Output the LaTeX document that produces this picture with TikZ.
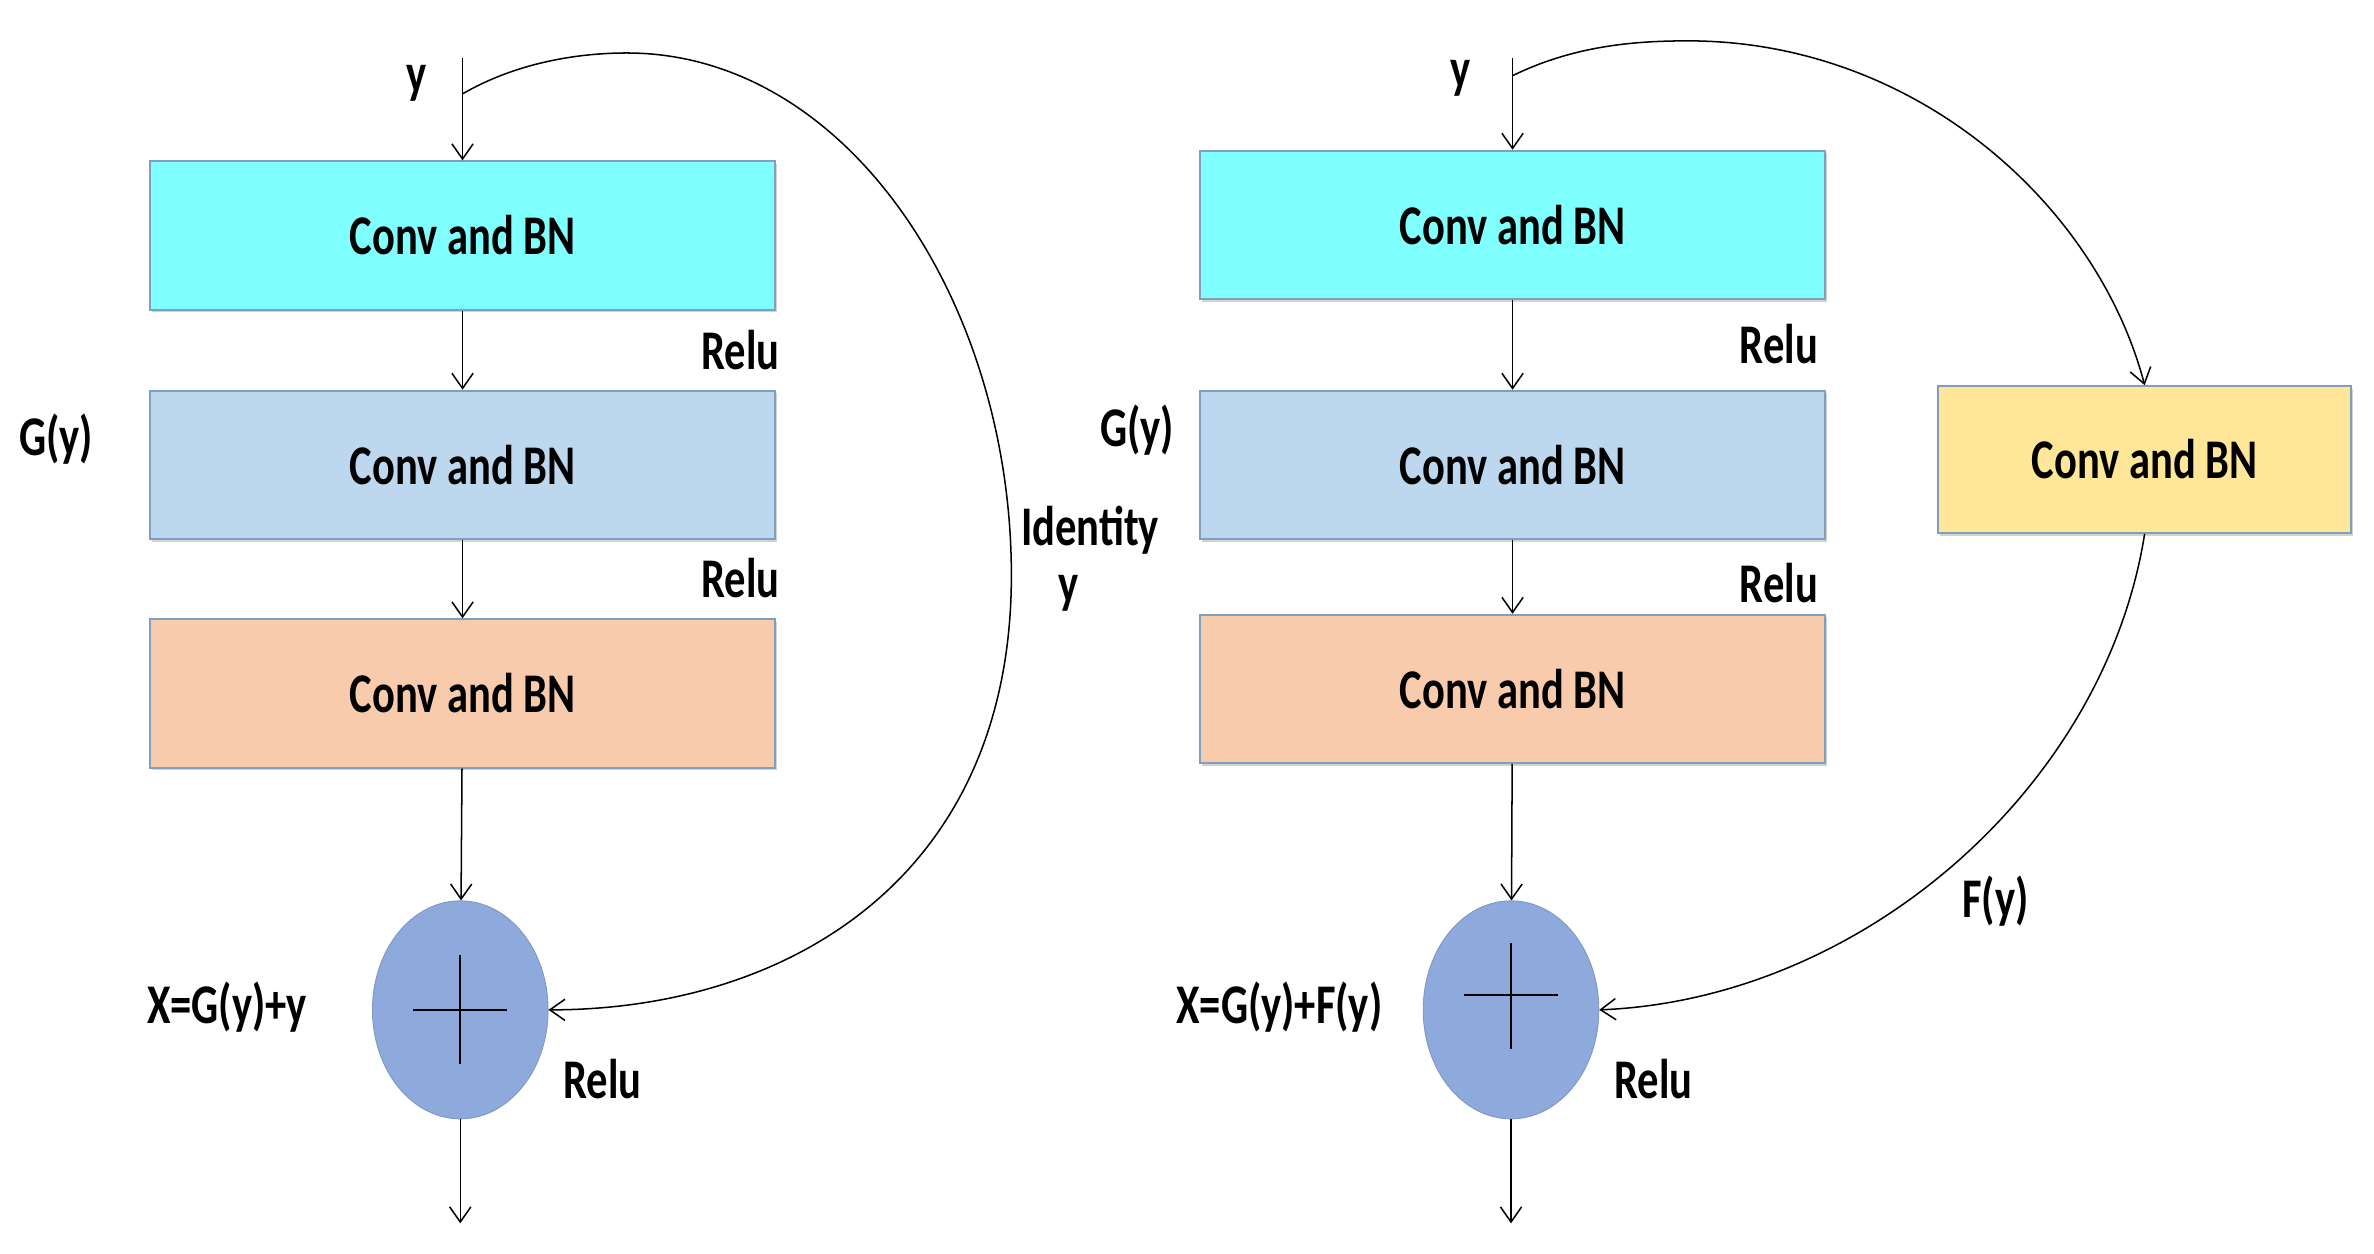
\documentclass[tikz,border=0pt]{standalone}
\usepackage{fontspec}
\setmainfont{Carlito}[FakeStretch=0.76]
\usetikzlibrary{arrows.meta,shapes.geometric,shadows}
\definecolor{cyanbox}{HTML}{80FFFF}
\definecolor{bluebox}{HTML}{BDD7EE}
\definecolor{peachbox}{HTML}{F8CBAD}
\definecolor{yellowbox}{HTML}{FFE699}
\definecolor{sumblue}{HTML}{8EA9DB}
\definecolor{boxedge}{HTML}{7F9FBF}
\begin{document}
\begin{tikzpicture}[x=0.5pt,y=-0.5pt,
  lbl/.style={font=\fontsize{18.5}{20}\selectfont\bfseries, inner sep=0pt},
  convbox/.style={lbl, draw=boxedge, line width=0.6pt, minimum width=206.5pt, minimum height=49pt,
    drop shadow={shadow xshift=0.6pt, shadow yshift=-0.9pt, opacity=0.35}},
  conn/.style={-{Straight Barb[length=5pt,width=7pt]}, line width=0.5pt},
  sumnode/.style={ellipse, fill=sumblue, draw=sumblue!90!black, line width=0.3pt, minimum width=58pt, minimum height=72pt, inner sep=0pt}]
\useasboundingbox (0,0) rectangle (1568,828);
\fill[white] (0,0) rectangle (1568,828);

% ---------------- left block ----------------
\node[convbox, fill=cyanbox]  (l1) at (305.5,155.5) {Conv and BN};
\node[convbox, fill=bluebox]  (l2) at (305.5,307) {Conv and BN};
\node[convbox, fill=peachbox] (l3) at (305.5,458) {Conv and BN};
\node[sumnode] (ls) at (304,667) {};
\coordinate (lin) at (305.5,38);
\coordinate (lsplit) at (305.5,62);
\coordinate (lout) at (304,808);

\draw[line width=0.6pt] ([xshift=-15.5pt]ls.center) -- ([xshift=15.5pt]ls.center);
\draw[line width=0.6pt] ([yshift=18pt]ls.center) -- ([yshift=-18pt]ls.center);

\draw[conn] (lin) -- (l1.north);
\draw[conn] (l1) -- (l2);
\draw[conn] (l2) -- (l3);
\draw[conn] (l3) -- (ls);
\draw[conn] (ls) -- (lout);
\draw[conn] (lsplit) .. controls (340,42) and (380,35) .. (414,35)
  .. controls (560,35) and (668,200) .. (668,380)
  .. controls (668,580) and (520,667) .. (ls.east);

\node[lbl] (ly)   at (275,55) {y};
\node[lbl] (lr1)  at (489,231) {Relu};
\node[lbl] (lr2)  at (489,382) {Relu};
\node[lbl] (lr3)  at (398,713) {Relu};
\node[lbl] (lg)   at (37,290) {G(y)};
\node[lbl] (lid)  at (720,350) {Identity};
\node[lbl] (lidy) at (706,392) {y};
\node[lbl] (lx)   at (150,665) {X=G(y)+y};

% ---------------- right block ----------------
\node[convbox, fill=cyanbox]  (r1) at (999,148.5) {Conv and BN};
\node[convbox, fill=bluebox]  (r2) at (999,307) {Conv and BN};
\node[convbox, fill=peachbox] (r3) at (999,455) {Conv and BN};
\node[convbox, fill=yellowbox, minimum width=136.5pt, minimum height=48.5pt] (ry) at (1416.5,303.5) {Conv and BN};
\node[sumnode] (rs) at (998,667) {};
\coordinate (rin) at (999,38);
\coordinate (rsplit) at (999,50);
\coordinate (rout) at (998,808);

\draw[line width=0.6pt] ([xshift=-15.5pt,yshift=5pt]rs.center) -- ([xshift=15.5pt,yshift=5pt]rs.center);
\draw[line width=0.6pt] ([yshift=22pt]rs.center) -- ([yshift=-13pt]rs.center);

\draw[conn] (rin) -- (r1.north);
\draw[conn] (r1) -- (r2);
\draw[conn] (r2) -- (r3);
\draw[conn] (r3) -- (rs);
\draw[conn] (rs) -- (rout);
\draw[conn] (rsplit) .. controls (1040,30) and (1080,27) .. (1115,27)
  .. controls (1265,27) and (1385,135) .. (ry.north);
\draw[conn] (ry.south) .. controls (1390,520) and (1230,660) .. (rs.east);

\node[lbl] (ryl)  at (965,52) {y};
\node[lbl] (rr1)  at (1175,227) {Relu};
\node[lbl] (rr2)  at (1175,385) {Relu};
\node[lbl] (rr3)  at (1092,713) {Relu};
\node[lbl] (rg)   at (751,284) {G(y)};
\node[lbl] (rf)   at (1318,595) {F(y)};
\node[lbl] (rx)   at (845,665) {X=G(y)+F(y)};
\end{tikzpicture}
\end{document}
